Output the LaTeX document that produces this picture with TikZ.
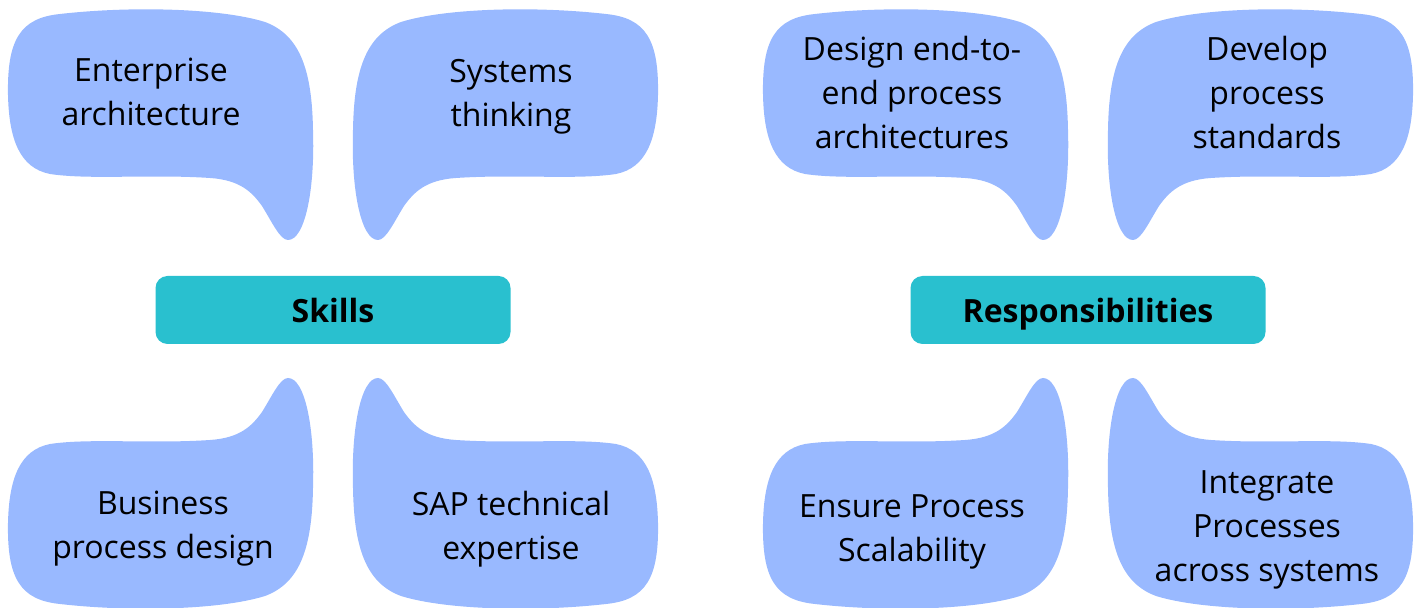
\documentclass[tikz,border=0pt]{standalone}
\usepackage{fontspec}
\setmainfont{Open Sans}
\definecolor{bubblue}{RGB}{153,185,255}
\definecolor{tealbox}{RGB}{41,192,207}
\usetikzlibrary{positioning}
\tikzset{
  bubble/.style={fill=bubblue, draw=none},
  bubtext/.style={align=center, inner sep=0pt, font=\fontsize{16}{22}\selectfont},
  headbox/.style={fill=tealbox, rounded corners=6pt, minimum width=177.5pt,
                  minimum height=34pt, text height=12.2pt, text depth=0pt,
                  font=\fontsize{16}{22}\selectfont\bfseries}
}
% speech bubble, tail at bottom right (pixel grid of the top-left bubble)
\newcommand{\bubbleshape}{
  (8,95) .. controls (7,40) and (20,18) .. (60,14)
  .. controls (130,6) and (220,8) .. (265,22)
  .. controls (300,35) and (312,70) .. (313,130)
  .. controls (315,190) and (305,240) .. (288,240)
  .. controls (280,240) and (272,222) .. (262,206)
  .. controls (252,192) and (240,180) .. (210,178)
  .. controls (150,174) and (90,180) .. (50,174)
  .. controls (20,168) and (9,140) .. (8,95) -- cycle}

\begin{document}
\begin{tikzpicture}[x=0.5pt, y=-0.5pt]
  \useasboundingbox (0,0) rectangle (1418,608);

  % bubbles, left and right groups
  \foreach \dx in {0,755} {
    \fill[bubble, shift={(\dx,0)}] \bubbleshape;
    \fill[bubble, shift={(\dx+666,0)}, xscale=-1] \bubbleshape;
    \fill[bubble, shift={(\dx,618)}, yscale=-1] \bubbleshape;
    \fill[bubble, shift={(\dx+666,618)}, xscale=-1, yscale=-1] \bubbleshape;
  }

  % center boxes
  \node[headbox] (skills) at (333,310) {Skills};
  \node[headbox] (resp) at (1088,310) {Responsibilities};

  % bubble texts
  \node[bubtext] (ent) at (151,92) {Enterprise\\architecture};
  \node[bubtext] (sys) at (511,97) {Systems\\thinking};
  \node[bubtext] (bpd) at (163,529) {Business\\process design};
  \node[bubtext] (sap) at (511,529) {SAP technical\\expertise};

  \node[bubtext] (design) at (912,92.5) {Design end-to-\\end process\\architectures};
  \node[bubtext] (develop) at (1267,92.5) {Develop\\process\\standards};
  \node[bubtext] (ensure) at (912,531.5) {Ensure Process\\Scalability};
  \node[bubtext] (integrate) at (1267,530) {Integrate\\Processes\\across systems};
\end{tikzpicture}
\end{document}
